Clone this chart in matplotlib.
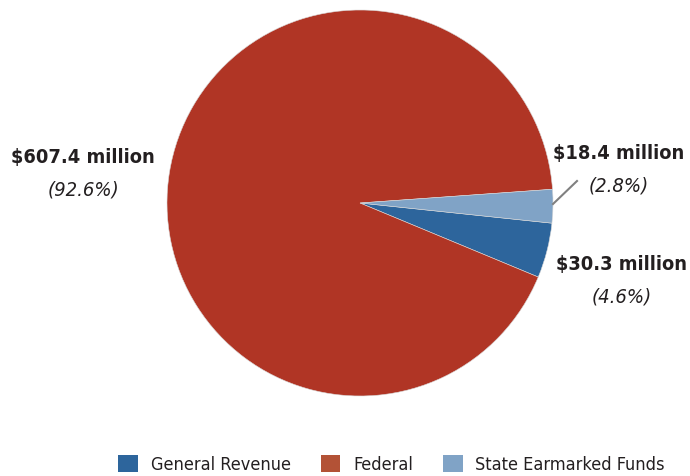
import matplotlib.pyplot as plt
from matplotlib.patches import Patch

# Data
categories = ['General Revenue', 'Federal', 'State Earmarked Funds']
amounts = [30.3, 607.4, 18.4]          # $ millions
shares = [4.6, 92.6, 2.8]              # percent
pie_colors = ['#2d659c', '#b03525', '#80a3c6']
legend_colors = ['#2d659c', '#b35236', '#80a3c6']

plt.rcParams['font.family'] = ['DejaVu Sans']
plt.rcParams['font.stretch'] = 'condensed'

fig = plt.figure(figsize=(6.9, 4.77), dpi=100)
ax = fig.add_axes([0, 0, 1, 1])

cx, cy, r = 360, 204, 193
ax.pie(shares, colors=pie_colors, startangle=-6, counterclock=False,
       center=(cx, -cy), radius=r, frame=True,
       wedgeprops=dict(edgecolor='#d9d9d9', linewidth=0.4))
ax.set_ylim(-477, 0)
ax.set_xlim(0, 690)
ax.set_aspect('equal')
ax.axis('off')

# Labels: (x, y) in pixel coordinates, y measured from top
label_pos = {0: (622, 265), 1: (83, 158), 2: (619, 154)}
for i, (x, y) in label_pos.items():
    ax.text(x, -y, f'${amounts[i]} million', ha='center', va='center',
            fontsize=14.3, fontweight='bold', color='#231f20')
    ax.text(x, -y - 32, f'({shares[i]}%)', ha='center', va='center',
            fontsize=14.5, fontstyle='italic', color='#231f20')

# leader line for the small slice
ax.plot([553, 577], [-205, -182], color='#808080', lw=1.5)

handles = [Patch(facecolor=c, edgecolor='none') for c in legend_colors]
fig.legend(handles, categories, loc='center', bbox_to_anchor=(0.5674, 0.025),
           ncol=3, frameon=False, fontsize=13, handlelength=1.1, handleheight=1.1,
           handletextpad=0.7, columnspacing=1.65, labelcolor='#231f20')

fig.savefig('out.png', dpi=100)
